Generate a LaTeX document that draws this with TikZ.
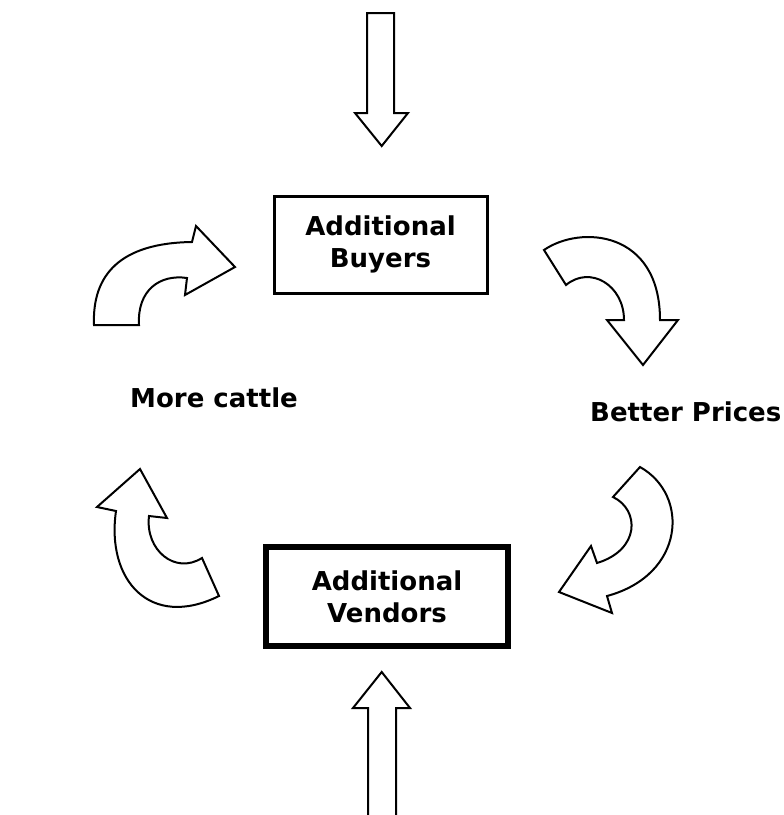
\documentclass[tikz,border=0pt]{standalone}
\usepackage{fontspec}
\setmainfont{DejaVu Sans}

\begin{document}
\begin{tikzpicture}[
                x=1pt, y=-1pt,
                boxtext/.style={draw, align=center, inner sep=0pt,
                                font=\fontsize{26}{32}\selectfont\bfseries},
                lbltext/.style={inner sep=0pt, font=\fontsize{26}{32}\selectfont\bfseries},
                bigarrow/.style={draw, line width=2pt, fill=white, line join=miter}
            ]
                \useasboundingbox[fill=white] (0,0) rectangle (784,815);
                \clip (0,0) rectangle (784,815);

                % the two boxes
                \node[boxtext, line width=3pt, minimum width=213pt, minimum height=97pt]
                    (buyers) at (380.5,244.5) {Additional\\Buyers};
                \node[boxtext, line width=5.5pt, minimum width=242pt, minimum height=99pt]
                    (vendors) at (387,596.5) {Additional\\Vendors};

                % side labels
                \node[lbltext, anchor=base west] (cattle) at (130,407) {More cattle};
                \node[lbltext, anchor=base west] (prices) at (590,421) {Better Prices};

                % straight arrows in and out
                \draw[bigarrow] (367,13) -- (394,13) -- (394,113) -- (408,113)
                    -- (381.7,146) -- (355,113) -- (367,113) -- cycle;
                \draw[bigarrow] (368,830) -- (368,708) -- (353,708) -- (381.7,672)
                    -- (410,708) -- (396,708) -- (396,830);

                % upper left, towards the buyers
                \draw[bigarrow] (94,325) .. controls (92,275) and (120,243) .. (192,242)
                    -- (196,226) -- (235,267) -- (185,295) -- (187,278)
                    .. controls (160,274) and (137,290) .. (139,325) -- cycle;
                % upper right, down to the prices
                \draw[bigarrow] (544,250) .. controls (580,225) and (660,230) .. (660,320)
                    -- (678,320) -- (643,365) -- (607,320) -- (624,320)
                    .. controls (624,285) and (590,265) .. (566,285) -- cycle;
                % lower right, towards the vendors
                \draw[bigarrow] (640,467) .. controls (690,495) and (685,575) .. (607,596)
                    -- (612,613) -- (559,592) -- (591,546) -- (597,563)
                    .. controls (640,550) and (640,510) .. (613,497) -- cycle;
                % lower left, up to more cattle
                \draw[bigarrow] (116,511) .. controls (106,580) and (150,630) .. (219,596)
                    -- (202,558) .. controls (175,575) and (145,550) .. (149,516)
                    -- (167,518) -- (140,469) -- (97,507) -- cycle;
            \end{tikzpicture}
\end{document}
